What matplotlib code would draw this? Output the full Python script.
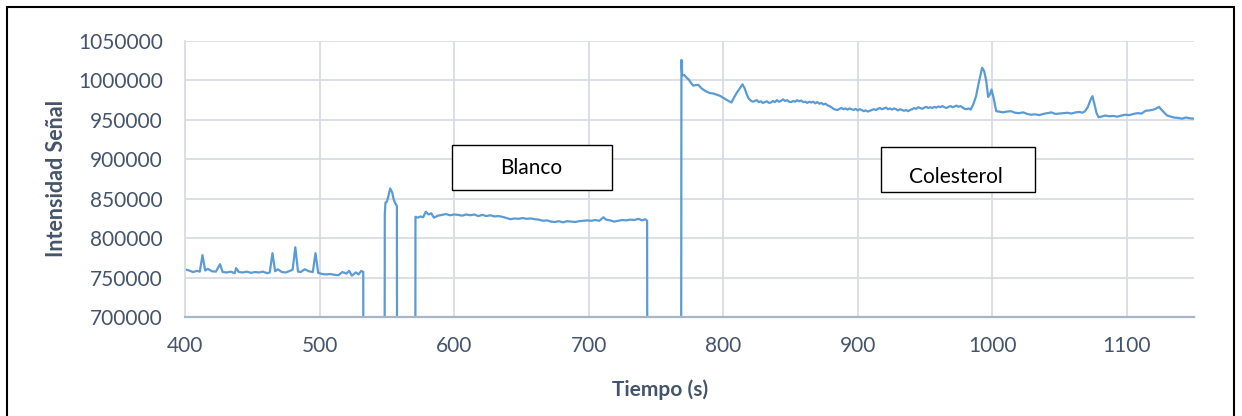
import matplotlib
matplotlib.use("Agg")
import matplotlib.pyplot as plt
from matplotlib.patches import Rectangle
from matplotlib.ticker import FuncFormatter

plt.rcParams['font.family'] = ['Lato', 'DejaVu Sans']

# --- signal before the blank (t, intensity) ---
t_base = [400, 403, 406, 409, 411, 413, 415, 417, 420, 423, 426, 428, 431, 434, 437,
          438, 440, 443, 446, 449, 452, 455, 458, 461, 463, 465, 467, 469, 472, 475,
          478, 480, 482, 484, 486, 489, 492, 495, 497, 499, 502, 505, 508, 511, 514,
          517, 520, 522, 524, 527, 529, 531, 532.5, 533]
v_base = [760500, 759000, 757000, 758500, 757500, 778500, 759000, 761000, 758000, 757500,
          767000, 757000, 756500, 757500, 755500, 762000, 757000, 756500, 757500, 756000,
          757000, 756500, 757500, 755500, 756500, 781000, 758000, 760500, 757000, 756500,
          758500, 760000, 788500, 757500, 757000, 760500, 758000, 757000, 781000, 756000,
          754500, 754000, 754500, 753500, 753000, 757000, 755000, 758500, 752500, 756500,
          754000, 758500, 757000, 0]

# --- short injection pulse ---
t_pulse = [548, 548.5, 549, 550, 551, 552.5, 554, 555, 556, 557.5, 558]
v_pulse = [0, 830000, 845000, 846000, 852000, 863000, 858000, 850000, 845000, 841000, 0]

# --- blank ("Blanco") plateau ---
t_blank = [571, 571.3, 573, 575, 577, 579, 581, 583, 585, 588, 591, 594, 597, 600, 603,
           606, 609, 612, 615, 618, 621, 624, 627, 630, 633, 636, 639, 642, 645, 648,
           651, 654, 657, 660, 663, 666, 669, 672, 675, 678, 681, 684, 687, 690, 693,
           696, 699, 702, 705, 708, 711, 713, 716, 719, 722, 725, 728, 731, 734, 737,
           740, 742, 743.5, 744]
v_blank = [0, 827000, 826000, 827500, 826500, 833500, 830000, 831500, 826000, 828500,
           829500, 830500, 829000, 830000, 829500, 828500, 830000, 829000, 830000, 828000,
           829500, 828000, 829000, 827500, 828000, 827000, 825500, 824000, 825000, 824500,
           825500, 824500, 825000, 824000, 823500, 822000, 822500, 821000, 820500, 821500,
           820000, 821500, 821000, 820500, 821500, 822000, 822500, 822000, 823000, 822000,
           826500, 823500, 822500, 821000, 822000, 823000, 822500, 823500, 823000, 824500,
           822500, 824000, 822000, 0]

# --- cholesterol ("Colesterol") plateau: onset and first bump ---
t_chol_a = [768.5, 769.0, 769.6, 771, 772.8, 774.5, 776, 777.7, 779.5, 781.5, 783.9, 786,
            788, 790.1, 792.5, 795.1, 797.6, 800, 802.5, 804.5, 806.2, 808, 810, 812,
            814.4, 816, 817.4, 819]
v_chol_a = [0, 1026000, 1006000, 1007000, 1003500, 1001000, 997000, 993500, 994000,
            994500, 990000, 987500, 985500, 984000, 983500, 982000, 980500, 978000,
            975500, 973500, 972000, 978000, 984000, 989000, 995000, 990000, 983000, 977000]

# --- cholesterol plateau: slow drift ---
t_chol_b = [820.5, 822, 823.5, 825, 826.5, 828, 829.5, 831, 832.5, 834,
            835.5, 837, 838.5, 840, 841.5, 843, 844.5, 846, 847.5, 849,
            850.5, 852, 853.5, 855, 856.5, 858, 859.5, 861, 862.5, 864,
            865.5, 867, 868.5, 870, 871.5, 873, 874.5, 876, 877.5, 879,
            880.5, 882, 883.5, 885, 886.5, 888, 889.5, 891, 892.5, 894,
            895.5, 897, 898.5, 900, 901.5, 903, 904.5, 906, 907.5, 909,
            910.5, 912, 913.5, 915, 916.5, 918, 919.5, 921, 922.5, 924,
            925.5, 927, 928.5, 930, 931.5, 933, 934.5, 936, 937.5, 939,
            940.5, 942, 943.5, 945, 946.5, 948, 949.5, 951, 952.5, 954,
            955.5, 957, 958.5, 960, 961.5, 963, 964.5, 966, 967.5, 969,
            970.5, 972, 973.5, 975, 976.5, 978, 979.5, 981, 982.5, 984]
v_chol_b = [974500, 973000, 974000, 975000, 972500, 973500, 971500, 972500, 973500, 971500,
            972000, 974000, 972500, 975000, 973000, 974000, 976000, 974000, 975000, 973000,
            972500, 974000, 973000, 975000, 973500, 974500, 972500, 973000, 971500, 973000,
            972000, 973000, 971000, 972500, 970500, 971500, 969500, 970500, 968500, 967500,
            966000, 964000, 963000, 962500, 964000, 965000, 963500, 964500, 963000, 964500,
            963500, 962500, 964000, 962000, 963500, 962500, 961000, 962000, 960500, 961500,
            962500, 963500, 962500, 964000, 965000, 963500, 964500, 965500, 963500, 964500,
            963000, 964500, 963500, 962000, 963500, 962500, 961500, 962500, 961000, 962500,
            963500, 965000, 964000, 966000, 965000, 964000, 965500, 966500, 965000, 966000,
            965000, 966500, 965500, 967000, 966000, 967500, 966000, 965000, 966500, 967500,
            966000, 967000, 968000, 966500, 967500, 965500, 964000, 963500, 964500, 963000]

# --- cholesterol plateau: main peaks and tail ---
t_chol_c = [986, 988, 990, 992.5, 994, 995.5, 997, 998.5, 999.5, 1001, 1003, 1005, 1008,
            1011, 1014, 1017, 1020, 1023, 1026, 1029, 1032, 1035, 1038, 1041, 1044, 1047,
            1050, 1053, 1056, 1059, 1062, 1065, 1067, 1069, 1071, 1073, 1074.5, 1076,
            1077.5, 1079, 1081, 1084, 1087, 1090, 1093, 1096, 1099, 1102, 1105, 1108, 1111,
            1114, 1117, 1120, 1122, 1124, 1126, 1128, 1130, 1132, 1135, 1138, 1141, 1144,
            1147, 1150, 1152]
v_chol_c = [970000, 980000, 997000, 1016000, 1012000, 1000000, 979000, 983000, 988500,
            978000, 961000, 960500, 959500, 960500, 961000, 959000, 958500, 959500, 957500,
            956500, 957000, 956000, 957500, 958500, 959500, 957500, 958000, 958500, 959000,
            958000, 959500, 960000, 959000, 961000, 966000, 975000, 980000, 970000, 959000,
            953500, 954000, 955500, 954500, 955000, 954000, 955500, 956500, 956000, 957500,
            958500, 958000, 961500, 962000, 963000, 964500, 966500, 962500, 959000, 955500,
            954500, 953000, 952500, 951500, 953000, 952000, 951500, 952000]

time = t_base + t_pulse + t_blank + t_chol_a + t_chol_b + t_chol_c
signal = v_base + v_pulse + v_blank + v_chol_a + v_chol_b + v_chol_c

x_ticks = [400, 500, 600, 700, 800, 900, 1000, 1100]
y_ticks = [700000, 750000, 800000, 850000, 900000, 950000, 1000000, 1050000]

W, H = 1242, 416
fig = plt.figure(figsize=(W / 100, H / 100), dpi=100)
ax = fig.add_axes([185 / W, 1 - 317 / H, (1194 - 185) / W, (317 - 41) / H])

ax.plot(time, signal, color='#5B9BD5', lw=1.6, solid_joinstyle='round')

ax.set_xlim(400, 1150)
ax.set_ylim(700000, 1050000)
ax.set_xticks(x_ticks)
ax.set_yticks(y_ticks)
ax.yaxis.set_major_formatter(FuncFormatter(lambda v, p: f"{int(v)}"))
ax.grid(True, color='#D9DCE3', lw=1.3)
ax.set_axisbelow(True)

tick_col = '#44546A'
ax.tick_params(axis='both', length=0, labelsize=15, colors=tick_col)
ax.tick_params(axis='y', pad=16)
ax.tick_params(axis='x', pad=14)

for side in ('top', 'right'):
    ax.spines[side].set_visible(False)
ax.spines['left'].set_color('#D9DCE3')
ax.spines['left'].set_linewidth(1.3)
ax.spines['bottom'].set_color('#A9B4C6')
ax.spines['bottom'].set_linewidth(1.6)

fig.text(57 / W, 1 - 178 / H, 'Intensidad Señal', rotation=90, ha='center', va='center',
         fontsize=15.5, fontweight='bold', color=tick_col)
fig.text(660 / W, 1 - 390 / H, 'Tiempo (s)', ha='center', va='center',
         fontsize=15, fontweight='bold', color=tick_col)

# annotation boxes
def label_box(x0, y0, x1, y1, text, tx, ty):
    fig.patches.append(Rectangle((x0 / W, 1 - y1 / H), (x1 - x0) / W, (y1 - y0) / H,
                                 transform=fig.transFigure, fill=True, facecolor='white',
                                 edgecolor='black', lw=1.0))
    fig.text(tx / W, 1 - ty / H, text, ha='center', va='center', fontsize=15,
             color='black')

label_box(452, 145, 612, 190, 'Blanco', 531, 168)
label_box(881, 147, 1035, 192, 'Colesterol', 956, 177)

# outer frame
fig.patches.append(Rectangle((7 / W, -0.01), (1234 - 7) / W, 1 - 7 / H + 0.01,
                             transform=fig.transFigure, fill=False,
                             edgecolor='black', lw=1.5))

fig.savefig('out.png', dpi=100)
